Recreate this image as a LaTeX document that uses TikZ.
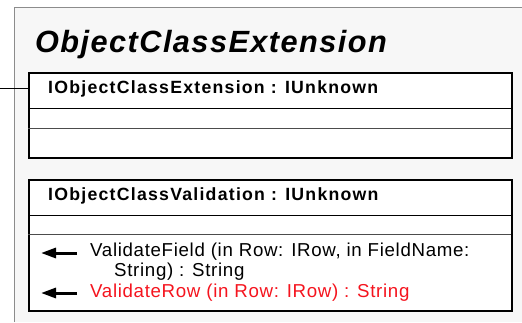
\documentclass[tikz,border=0pt]{standalone}
\usepackage{fontspec}
\setmainfont{Liberation Sans}
\usetikzlibrary{arrows.meta}
\definecolor{panel}{RGB}{247,247,247}
\definecolor{panelline}{RGB}{140,140,140}
\definecolor{redtext}{RGB}{245,20,30}
\begin{document}
\begin{tikzpicture}[x=1pt,y=-1pt,
  box/.style={draw=black, line width=2pt, fill=white, anchor=north west, inner sep=0pt, minimum width=483pt},
  sep/.style={line width=0.8pt},
  title/.style={anchor=base west, inner sep=0pt, font=\fontsize{30.7}{34}\selectfont\bfseries\itshape\addfontfeatures{LetterSpace=4.7}},
  iface/.style={anchor=base west, inner sep=0pt, font=\fontsize{17.7}{20}\selectfont\bfseries\addfontfeatures{LetterSpace=7}},
  meth/.style={anchor=base west, inner sep=0pt, font=\fontsize{18.7}{20}\selectfont\addfontfeatures{LetterSpace=3.6}},
  arr/.style={-{Triangle[length=15pt,width=10pt]}, line width=3pt}
]
\useasboundingbox (0,0) rectangle (522,322);
\fill[panel] (14,7) rectangle (522,322);
\draw[panelline, line width=1pt] (14,322) -- (14,7) -- (522,7);

\node[title] (t) at (35,52) {ObjectClassExtension};

% box 1
\node[box, minimum height=85pt] (b1) at (28,72) {};
\draw[sep] (28,108) -- (511,108);
\draw[sep, black!70] (28,128) -- (511,128);
\node[iface] (h1) at (48,93.5) {IObjectClassExtension : IUnknown};
\coordinate (c1) at (0,88);
\draw[line width=1pt] (c1) -- (c1 -| b1.west);

% box 2
\node[box, minimum height=131pt] (b2) at (28,179) {};
\draw[sep] (28,215) -- (511,215);
\draw[sep, black!70] (28,234) -- (511,234);
\node[iface] (h2) at (48,200.5) {IObjectClassValidation : IUnknown};

\node[meth] (m1) at (90,256) {ValidateField (in Row: IRow, in FieldName:};
\node[meth] (m1b) at (114,276) {String) : String};
\node[meth, text=redtext] (m2) at (90,297) {ValidateRow (in Row: IRow) : String};

\coordinate (a1s) at (77,253) ;
\coordinate (a1e) at (41,253);
\draw[arr] (a1s) -- (a1e);
\coordinate (a2s) at (77,293);
\coordinate (a2e) at (41,293);
\draw[arr] (a2s) -- (a2e);
\end{tikzpicture}
\end{document}
